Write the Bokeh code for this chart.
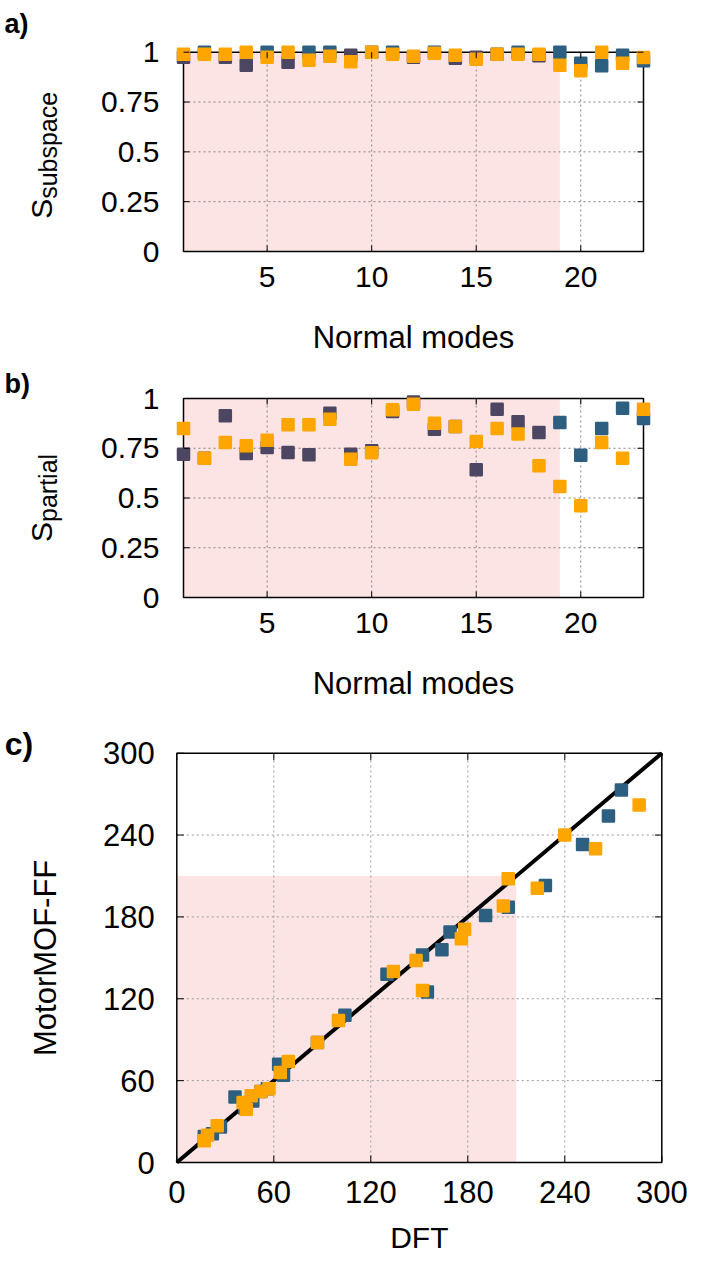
import math
from bokeh.plotting import figure
from bokeh.models import Range1d, ColumnDataSource
from bokeh.embed import file_html
from bokeh.resources import INLINE
from bokeh.core.properties import value

# ---------------- data ----------------
modes = list(range(1, 24))

subspace_blue = [0.975, 1.0, 0.975, 0.935, 1.0, 0.95, 1.0, 1.0, 0.985, 1.0, 1.0, 0.975,
                 1.0, 0.97, 0.975, 0.99, 1.0, 0.982, 1.0, 0.945, 0.932, 0.985, 0.957]
subspace_orange = [0.99, 0.99, 0.99, 1.0, 0.975, 1.0, 0.96, 0.98, 0.952, 1.0, 0.99, 0.98,
                   0.995, 0.985, 0.965, 0.99, 0.99, 0.99, 0.935, 0.907, 1.0, 0.945, 0.973]

partial_blue = [0.72, 0.70, 0.913, 0.724, 0.754, 0.729, 0.717, 0.926, 0.72, 0.737, 0.935, 0.983,
                0.846, 0.859, 0.642, 0.946, 0.883, 0.829, 0.879, 0.715, 0.849, 0.951, 0.90]
partial_orange = [0.849, 0.70, 0.779, 0.762, 0.79, 0.868, 0.868, 0.896, 0.695, 0.727, 0.943, 0.971,
                  0.876, 0.859, 0.784, 0.849, 0.821, 0.662, 0.558, 0.461, 0.779, 0.70, 0.946]

dft_blue = [17, 22, 27, 36, 42, 47, 52, 56, 63, 66, 87, 104, 130, 152, 155, 164, 169, 191, 205, 228, 251, 267, 275]
ff_blue = [19, 21, 26, 48, 40, 45, 52, 54, 72, 64, 88, 108, 138, 152, 125, 156, 169, 181, 187, 203, 233, 254, 273]
dft_orange = [17, 19, 25, 41, 43, 46, 52, 57, 64, 69, 87, 100, 134, 148, 152, 176, 178, 202, 205, 223, 240, 259, 286]
ff_orange = [16, 20, 27, 44, 39, 49, 52, 54, 66, 74, 88, 104, 140, 148, 126, 164, 171, 188, 208, 201, 240, 230, 262]

shade_modes = [1, 19]
shade_freq = 210
mode_ticks = [5, 10, 15, 20]
mode_tick_labels = ["5", "10", "15", "20"]
s_ticks = [0, 0.25, 0.5, 0.75, 1]
s_tick_labels = ["0", "0.25", "0.5", "0.75", "1"]
freq_ticks = [0, 60, 120, 180, 240, 300]
freq_tick_labels = ["0", "60", "120", "180", "240", "300"]

# ---------------- style / layout ----------------
TEAL = "#2c5f80"
PURPLE = "#4d4663"
ORANGE = "#ffa500"
PINK = "#fce4e4"
GRID_AB = "#8a8080"
GRID_C = "#9a9a9a"
FONT = "Liberation Sans"
W, H = 687, 1257

# pixel boxes (left, top, right, bottom) on the canvas for each panel's data box
BOX_A = (183, 51.7, 643, 251)
BOX_B = (183, 398, 643, 597)
BOX_C = (176.3, 752.7, 661.3, 1162)

p = figure(width=W, height=H, title=None,
           x_range=Range1d(0, W), y_range=Range1d(0, H),
           x_axis_location=None, y_axis_location=None, min_border=0,
           output_backend="svg", toolbar_location=None)
p.outline_line_color = None
p.grid.visible = False
p.background_fill_color = "white"
p.border_fill_color = "white"

xr, yr = {}, {}


def panel_ranges(name, box_px, box_data):
    L, T, R, B = box_px
    x0, x1, y0, y1 = box_data
    dx = (x1 - x0) / (R - L)
    dy = (y1 - y0) / (B - T)
    xr[name] = Range1d(x0 - L * dx, x1 + (W - R) * dx)
    yr[name] = Range1d(y0 - (H - B) * dy, y1 + T * dy)


panel_ranges("a", BOX_A, (modes[0], modes[-1], s_ticks[0], s_ticks[-1]))
panel_ranges("b", BOX_B, (modes[0], modes[-1], s_ticks[0], s_ticks[-1]))
panel_ranges("c", BOX_C, (freq_ticks[0], freq_ticks[-1], freq_ticks[0], freq_ticks[-1]))
p.extra_x_ranges = xr
p.extra_y_ranges = yr


def R(name):
    return dict(x_range_name=name, y_range_name=name)


def txt(name, x, y, t, size, **kw):
    p.text(x=x, y=y, text=t, text_font=value(FONT), text_font_size=value(size),
           text_color="black", **R(name), **kw)


def ticks_in(name, xs, ys, angle, length=6):
    p.ray(x=xs, y=ys, length=length, length_units="screen", angle=angle,
          line_color="black", line_width=1, **R(name))


def mode_panel(name, blue, orange, tag, tag_dy, s_sub, s_off):
    x0, x1 = modes[0], modes[-1]
    y0, y1 = s_ticks[0], s_ticks[-1]

    p.quad(left=[shade_modes[0]], right=[shade_modes[1]], bottom=[y0], top=[y1],
           fill_color=PINK, line_color=None, **R(name))
    n = len(mode_ticks)
    p.segment(x0=mode_ticks, y0=[y0] * n, x1=mode_ticks, y1=[y1] * n,
              line_color=GRID_AB, line_dash="2 3", line_width=1, **R(name))
    inner = s_ticks[1:-1]
    p.segment(x0=[x0] * len(inner), y0=inner, x1=[x1] * len(inner), y1=inner,
              line_color=GRID_AB, line_dash="2 3", line_width=1, **R(name))
    p.quad(left=[x0], right=[x1], bottom=[y0], top=[y1],
           fill_color=None, line_color="black", line_width=1.5, **R(name))

    colors = [TEAL if (m >= shade_modes[1] or v >= 0.995) else PURPLE for m, v in zip(modes, blue)]
    src_b = ColumnDataSource(dict(x=modes, y=blue, c=colors))
    p.scatter("x", "y", source=src_b, marker="square", size=11, fill_color="c", line_color="c",
              line_width=2.5, line_join="round", **R(name))
    p.scatter(modes, orange, marker="square", size=11, fill_color=ORANGE, line_color=ORANGE,
              line_width=2.5, line_join="round", **R(name))

    ns = len(s_ticks)
    ticks_in(name, [x0] * ns, s_ticks, 0)
    ticks_in(name, [x1] * ns, s_ticks, math.pi)
    ticks_in(name, mode_ticks, [y0] * n, math.pi / 2)
    ticks_in(name, mode_ticks, [y1] * n, -math.pi / 2)

    txt(name, mode_ticks, [y0] * n, mode_tick_labels, "30px",
        text_align="center", text_baseline="top", y_offset=15)
    txt(name, [x0] * ns, s_ticks, s_tick_labels, "30px",
        text_align="right", text_baseline="middle", x_offset=-24)
    txt(name, [(x0 + x1) / 2], [y0], ["Normal modes"], "31px",
        text_align="center", text_baseline="middle", y_offset=86)
    txt(name, [x0], [y1], [tag], "27px", text_font_style="bold",
        text_align="left", text_baseline="middle", x_offset=-179, y_offset=tag_dy)
    yc = (y0 + y1) / 2
    txt(name, [x0], [yc], ["S"], "30px", angle=math.pi / 2,
        text_align="left", text_baseline="alphabetic", x_offset=-142, y_offset=s_off)
    txt(name, [x0], [yc], [s_sub], "25px", angle=math.pi / 2,
        text_align="left", text_baseline="alphabetic", x_offset=-136, y_offset=s_off - 20)


mode_panel("a", subspace_blue, subspace_orange, "a)", -28, "subspace", 67)
mode_panel("b", partial_blue, partial_orange, "b)", -15, "partial", 44)

# ---------------- panel c ----------------
f0, f1 = freq_ticks[0], freq_ticks[-1]
p.quad(left=[f0], right=[shade_freq], bottom=[f0], top=[shade_freq],
       fill_color=PINK, line_color=None, **R("c"))
inner_f = freq_ticks[1:-1]
m = len(inner_f)
p.segment(x0=inner_f, y0=[f0] * m, x1=inner_f, y1=[f1] * m,
          line_color=GRID_C, line_dash="2 3", line_width=1, **R("c"))
p.segment(x0=[f0] * m, y0=inner_f, x1=[f1] * m, y1=inner_f,
          line_color=GRID_C, line_dash="2 3", line_width=1, **R("c"))

diag = [f0, f1]
p.line(diag, diag, line_color="black", line_width=4, **R("c"))
p.scatter(dft_blue, ff_blue, marker="square", size=11, fill_color=TEAL, line_color=TEAL,
          line_width=2.5, line_join="round", **R("c"))
p.scatter(dft_orange, ff_orange, marker="square", size=11, fill_color=ORANGE, line_color=ORANGE,
          line_width=2.5, line_join="round", **R("c"))
p.quad(left=[f0], right=[f1], bottom=[f0], top=[f1],
       fill_color=None, line_color="black", line_width=1.5, **R("c"))

nf = len(freq_ticks)
ticks_in("c", [f0] * nf, freq_ticks, 0, 7)
ticks_in("c", [f1] * nf, freq_ticks, math.pi, 7)
ticks_in("c", freq_ticks, [f0] * nf, math.pi / 2, 7)
ticks_in("c", freq_ticks, [f1] * nf, -math.pi / 2, 7)

txt("c", freq_ticks, [f0] * nf, freq_tick_labels, "31px",
    text_align="center", text_baseline="top", y_offset=18)
txt("c", [f0] * nf, freq_ticks, freq_tick_labels, "31px",
    text_align="right", text_baseline="middle", x_offset=-22)
txt("c", [(f0 + f1) / 2], [f0], ["DFT"], "30px",
    text_align="center", text_baseline="middle", y_offset=75)
txt("c", [f0], [(f0 + f1) / 2], ["MotorMOF-FF"], "31px", angle=math.pi / 2,
    text_align="center", text_baseline="middle", x_offset=-131)
txt("c", [f0], [f1], ["c)"], "32px", text_font_style="bold",
    text_align="left", text_baseline="middle", x_offset=-172, y_offset=-9)

open("out.html", "w").write(file_html(p, INLINE))
